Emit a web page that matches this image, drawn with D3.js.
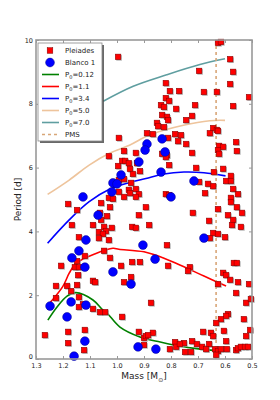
<!DOCTYPE html>
<html>
<head>
<meta charset="utf-8">
<script src="https://cdn.jsdelivr.net/npm/d3@7"></script>
<style>
  body { margin: 0; background: #fff; }
  text { font-family: "DejaVu Sans", sans-serif; }
</style>
</head>
<body>
<svg></svg>
<script>
// figure size and plot box
const size = {w: 280, h: 400};
const margin = {t: 40, r: 28, b: 41, l: 36};

// Pleiades stars: mass [Msun] and rotation period [d]
const pleiadesMass = [0.996,0.626,0.615,0.581,0.696,0.570,0.819,0.581,0.804,0.770,0.678,0.630,0.511,0.819,0.807,0.837,0.826,0.711,0.570,0.781,
  0.833,0.815,0.811,0.722,0.744,0.852,0.848,0.826,0.644,0.630,0.656,0.626,0.785,0.763,0.867,0.993,0.811,0.774,0.744,0.559,
  0.622,0.607,0.889,0.833,0.815,0.722,0.626,0.622,0.556,0.819,0.807,0.707,0.607,0.641,0.644,0.578,0.596,0.578,0.696,0.663,
  0.570,0.552,0.674,0.578,0.578,0.556,0.819,0.807,0.893,0.626,0.537,0.719,0.589,0.570,0.659,0.574,0.541,0.881,0.644,0.626,
  0.656,0.600,0.815,1.030,0.974,0.930,0.981,0.970,0.956,0.926,0.996,0.952,0.915,0.993,0.974,0.941,0.948,0.930,0.956,0.993,
  0.952,0.919,1.030,1.015,0.974,0.930,1.181,1.059,1.026,1.148,1.063,0.919,1.037,1.059,1.167,1.089,1.048,1.019,0.944,0.930,
  1.041,1.067,1.052,1.141,1.067,1.030,1.048,1.026,1.119,1.148,1.207,1.156,1.141,1.144,0.985,0.944,0.915,1.226,1.185,1.148,
  1.170,1.089,1.081,0.974,0.948,1.226,1.141,1.126,1.141,1.089,1.063,1.044,0.981,1.267,1.181,1.119,1.181,1.122,0.919,0.900,
  0.811,0.730,0.737,0.567,0.556,0.607,0.596,0.581,0.552,0.511,0.626,0.559,0.874,0.522,0.504,0.589,0.596,0.615,0.530,0.633,
  0.604,0.681,0.507,0.652,0.644,0.596,0.522,0.893,0.867,0.885,0.785,0.752,0.722,0.704,0.685,0.659,0.781,0.748,0.726,0.670,
  0.637,0.626,0.615,0.593,0.559,0.552,0.541,0.526,0.515,0.900,0.633,0.804,0.767];
const pleiadesPeriod = [9.47,9.91,9.94,9.40,9.03,9.00,8.65,8.62,8.40,8.40,8.37,8.37,8.21,8.18,8.09,7.96,7.90,7.96,7.93,7.84,
  7.65,7.59,7.49,7.62,7.49,7.40,7.30,7.27,7.24,7.18,7.08,7.15,7.05,7.02,7.05,6.93,6.93,6.83,6.74,6.80,
  6.68,6.65,7.08,6.43,6.39,6.46,6.55,6.43,6.52,6.33,6.08,5.99,5.96,5.86,5.42,5.74,5.58,5.58,5.55,5.49,
  5.33,5.17,5.20,5.05,4.92,4.76,5.17,5.14,4.76,4.70,4.58,4.58,4.51,4.36,4.33,4.20,4.14,4.20,3.95,3.92,
  3.79,3.82,3.57,6.36,6.52,6.46,6.21,6.21,6.14,6.14,6.05,5.96,5.89,5.61,5.64,5.80,5.52,5.33,5.30,5.24,
  5.20,5.17,5.05,5.02,5.08,5.08,4.86,4.89,4.76,4.67,4.58,4.51,4.48,4.36,4.20,4.20,4.14,4.11,4.14,4.11,
  4.01,3.98,3.92,3.82,3.79,3.73,3.39,3.17,3.23,3.07,2.92,2.88,2.88,2.63,2.92,3.04,3.04,2.29,2.29,2.32,
  2.13,2.45,2.41,2.41,2.57,1.91,1.94,1.72,1.63,1.57,1.47,1.47,1.32,0.75,0.85,0.91,0.50,0.28,0.85,0.66,
  2.92,2.88,2.76,3.01,3.01,2.70,2.63,2.48,2.41,2.35,2.35,2.07,1.76,1.76,1.88,1.41,1.35,1.25,1.25,1.13,
  0.88,0.85,0.91,0.82,0.72,0.56,0.72,0.72,0.82,0.75,0.53,0.50,0.56,0.47,0.38,0.47,0.38,0.22,0.22,0.31,
  0.31,0.25,0.31,0.31,0.28,0.34,0.38,0.38,0.38,0.44,0.13,0.31,0.47];

// Blanco 1 stars
const blancoMass = [0.889,0.896,0.833,0.822,0.919,0.985,1.015,1.000,1.019,0.837,0.715,0.800,1.126,1.070,1.115,0.678,
  0.904,1.141,1.167,1.119,1.015,0.948,0.859,1.248,1.170,1.115,1.185,1.119,1.159,0.922,0.856];
const blancoPeriod = [6.74,6.55,6.90,6.49,6.18,5.77,5.52,5.49,5.24,5.86,5.58,5.08,5.08,4.51,3.73,3.79,
  3.57,3.39,3.17,2.88,2.73,2.35,3.13,1.66,1.79,1.69,1.32,0.56,0.09,0.38,0.31];

// model tracks for different initial periods P0
const trackMass012 = [1.256,1.222,1.185,1.152,1.089,1.053,1.037,0.989,0.915,0.84,0.79,0.69,0.60];
const trackPer012  = [1.22,1.63,1.97,2.08,1.85,1.54,1.44,1.0,0.69,0.53,0.44,0.31,0.25];
const trackMass11  = [1.256,1.201,1.177,1.152,1.078,1.015,0.993,0.9,0.826,0.752,0.678,0.596];
const trackPer11   = [1.69,2.27,2.69,3.0,3.31,3.47,3.44,3.36,3.16,2.89,2.6,2.29];
const trackMass34  = [1.257,1.177,1.103,1.028,0.954,0.893,0.826,0.752,0.678,0.598];
const trackPer34   = [3.63,4.36,4.93,5.32,5.53,5.66,5.80,5.86,5.84,5.74];
const trackMass50  = [1.257,1.177,1.103,1.028,0.954,0.878,0.754,0.656,0.600];
const trackPer50   = [5.16,5.61,6.08,6.45,6.70,7.03,7.33,7.47,7.48];
const trackMass70  = [1.051,0.94,0.816,0.693,0.60];
const trackPer70   = [8.08,8.55,8.91,9.23,9.41];
const pmsMass = 0.633;

const tracks = [
  {label: '0.12', color: '#008000', mass: trackMass012, per: trackPer012},
  {label: '1.1',  color: '#ff0000', mass: trackMass11,  per: trackPer11},
  {label: '3.4',  color: '#0000ff', mass: trackMass34,  per: trackPer34},
  {label: '5.0',  color: '#eec49c', mass: trackMass50,  per: trackPer50},
  {label: '7.0',  color: '#5f9ea0', mass: trackMass70,  per: trackPer70}
];

const xTicks = [1.3, 1.2, 1.1, 1.0, 0.9, 0.8, 0.7, 0.6, 0.5];
const yTicks = [0, 2, 4, 6, 8, 10];

const svg = d3.select('svg')
    .attr('width', size.w)
    .attr('height', size.h);

const x = d3.scaleLinear().domain([1.3, 0.5]).range([margin.l, size.w - margin.r]);
const y = d3.scaleLinear().domain([0, 10]).range([size.h - margin.b, margin.t]);

const spine = '#999';

// tracks
const line = d3.line()
    .x(d => x(d[0]))
    .y(d => y(d[1]))
    .curve(d3.curveCatmullRom);

svg.append('g').selectAll('path')
    .data(tracks)
    .enter().append('path')
    .attr('d', t => line(t.mass.map((m, i) => [m, t.per[i]])))
    .attr('fill', 'none')
    .attr('stroke', t => t.color)
    .attr('stroke-width', 1.6);

// pre main sequence limit
svg.append('line')
    .attr('x1', x(pmsMass)).attr('x2', x(pmsMass))
    .attr('y1', y(10)).attr('y2', y(0))
    .attr('stroke', '#d8a678')
    .attr('stroke-width', 1.6)
    .attr('stroke-dasharray', '3,3');

// Pleiades squares with a small grey shadow
const sq = 5.6;
const pleiades = pleiadesMass.map((m, i) => [m, pleiadesPeriod[i]]);
const gP = svg.append('g');
gP.selectAll('rect.shadow')
    .data(pleiades).enter().append('rect')
    .attr('x', d => x(d[0]) - sq / 2 + 1)
    .attr('y', d => y(d[1]) - sq / 2 + 1)
    .attr('width', sq).attr('height', sq)
    .attr('fill', '#999').attr('opacity', 0.7);
gP.selectAll('rect.pt')
    .data(pleiades).enter().append('rect')
    .attr('x', d => x(d[0]) - sq / 2)
    .attr('y', d => y(d[1]) - sq / 2)
    .attr('width', sq).attr('height', sq)
    .attr('fill', '#ff0000')
    .attr('stroke', '#7a0000').attr('stroke-width', 0.5);

// Blanco 1 circles
const blanco = blancoMass.map((m, i) => [m, blancoPeriod[i]]);
svg.append('g').selectAll('circle')
    .data(blanco).enter().append('circle')
    .attr('cx', d => x(d[0]))
    .attr('cy', d => y(d[1]))
    .attr('r', 4.4)
    .attr('fill', '#0000ff')
    .attr('stroke', '#00008b').attr('stroke-width', 0.5);

// axes: inward ticks on all four sides
const tickLen = 3;
const xAxisB = d3.axisBottom(x).tickValues(xTicks).tickSizeInner(-tickLen).tickSizeOuter(0).tickPadding(4).tickFormat(d3.format('.1f'));
const xAxisT = d3.axisTop(x).tickValues(xTicks).tickSizeInner(-tickLen).tickSizeOuter(0).tickFormat('');
const yAxisL = d3.axisLeft(y).tickValues(yTicks).tickSizeInner(-tickLen).tickSizeOuter(0).tickPadding(3);
const yAxisR = d3.axisRight(y).tickValues(yTicks).tickSizeInner(-tickLen).tickSizeOuter(0).tickFormat('');

function styleAxis(g) {
  g.select('.domain').remove();
  g.selectAll('line').attr('stroke', '#555').attr('stroke-width', 0.6);
  g.selectAll('text').attr('font-size', 6.5).attr('fill', '#222')
    .attr('font-family', '"DejaVu Sans", sans-serif');
}

svg.append('g').attr('transform', 'translate(0,' + y(0) + ')').call(xAxisB).call(styleAxis);
svg.append('g').attr('transform', 'translate(0,' + y(10) + ')').call(xAxisT).call(styleAxis);
svg.append('g').attr('transform', 'translate(' + x(1.3) + ',0)').call(yAxisL).call(styleAxis)
    .selectAll('.tick text').filter(d => d === 0).attr('dy', '-0.05em');
svg.append('g').attr('transform', 'translate(' + x(0.5) + ',0)').call(yAxisR).call(styleAxis);

// frame
svg.append('rect')
    .attr('x', x(1.3)).attr('y', y(10))
    .attr('width', x(0.5) - x(1.3)).attr('height', y(0) - y(10))
    .attr('fill', 'none')
    .attr('stroke', spine).attr('stroke-width', 1.6);

// axis labels
const xl = svg.append('text')
    .attr('x', (x(1.3) + x(0.5)) / 2).attr('y', 379)
    .attr('text-anchor', 'middle')
    .attr('font-size', 9).attr('fill', '#222');
xl.append('tspan').text('Mass [M');
xl.append('tspan').text('\u2299').attr('font-size', 6).attr('dy', 2.5);
xl.append('tspan').text(']').attr('dy', -2.5);

svg.append('text')
    .attr('transform', 'translate(21,' + (y(0) + y(10)) / 2 + ') rotate(-90)')
    .attr('text-anchor', 'middle')
    .attr('font-size', 9).attr('fill', '#222')
    .text('Period [d]');

// legend
const leg = {x: 38, y: 43, w: 64, h: 98};
svg.append('rect')
    .attr('x', leg.x + 2).attr('y', leg.y + 2)
    .attr('width', leg.w).attr('height', leg.h)
    .attr('fill', '#444').attr('opacity', 0.8);
svg.append('rect')
    .attr('x', leg.x).attr('y', leg.y)
    .attr('width', leg.w).attr('height', leg.h)
    .attr('fill', '#fff')
    .attr('stroke', '#888').attr('stroke-width', 0.8);

const rowY = i => leg.y + 7.5 + i * 12;
const symX = leg.x + 12;
const textX = leg.x + 27;

svg.append('rect')
    .attr('x', symX - sq / 2).attr('y', rowY(0) - sq / 2)
    .attr('width', sq).attr('height', sq)
    .attr('fill', '#ff0000').attr('stroke', '#7a0000').attr('stroke-width', 0.5);
svg.append('text').attr('x', textX).attr('y', rowY(0) + 2.5)
    .attr('font-size', 7).attr('fill', '#222').text('Pleiades');

svg.append('circle')
    .attr('cx', symX).attr('cy', rowY(1)).attr('r', 4.4)
    .attr('fill', '#0000ff').attr('stroke', '#00008b').attr('stroke-width', 0.5);
svg.append('text').attr('x', textX).attr('y', rowY(1) + 2.5)
    .attr('font-size', 7).attr('fill', '#222').text('Blanco 1');

tracks.forEach((t, i) => {
  const ry = rowY(i + 2);
  svg.append('line')
      .attr('x1', leg.x + 4).attr('x2', leg.x + 21)
      .attr('y1', ry).attr('y2', ry)
      .attr('stroke', t.color).attr('stroke-width', 1.6);
  const txt = svg.append('text').attr('x', textX).attr('y', ry + 2.5)
      .attr('font-size', 7).attr('fill', '#222')
      .attr('font-family', '"DejaVu Serif", serif');
  txt.append('tspan').text('P');
  txt.append('tspan').text('0').attr('font-size', 5).attr('dy', 1.5);
  txt.append('tspan').text('=' + t.label).attr('dy', -1.5);
});

const pmsY = rowY(7);
svg.append('line')
    .attr('x1', leg.x + 4).attr('x2', leg.x + 21)
    .attr('y1', pmsY).attr('y2', pmsY)
    .attr('stroke', '#d8a678').attr('stroke-width', 1.6)
    .attr('stroke-dasharray', '3,3');
svg.append('text').attr('x', textX).attr('y', pmsY + 2.5)
    .attr('font-size', 7).attr('fill', '#222').text('PMS');
</script>
</body>
</html>
